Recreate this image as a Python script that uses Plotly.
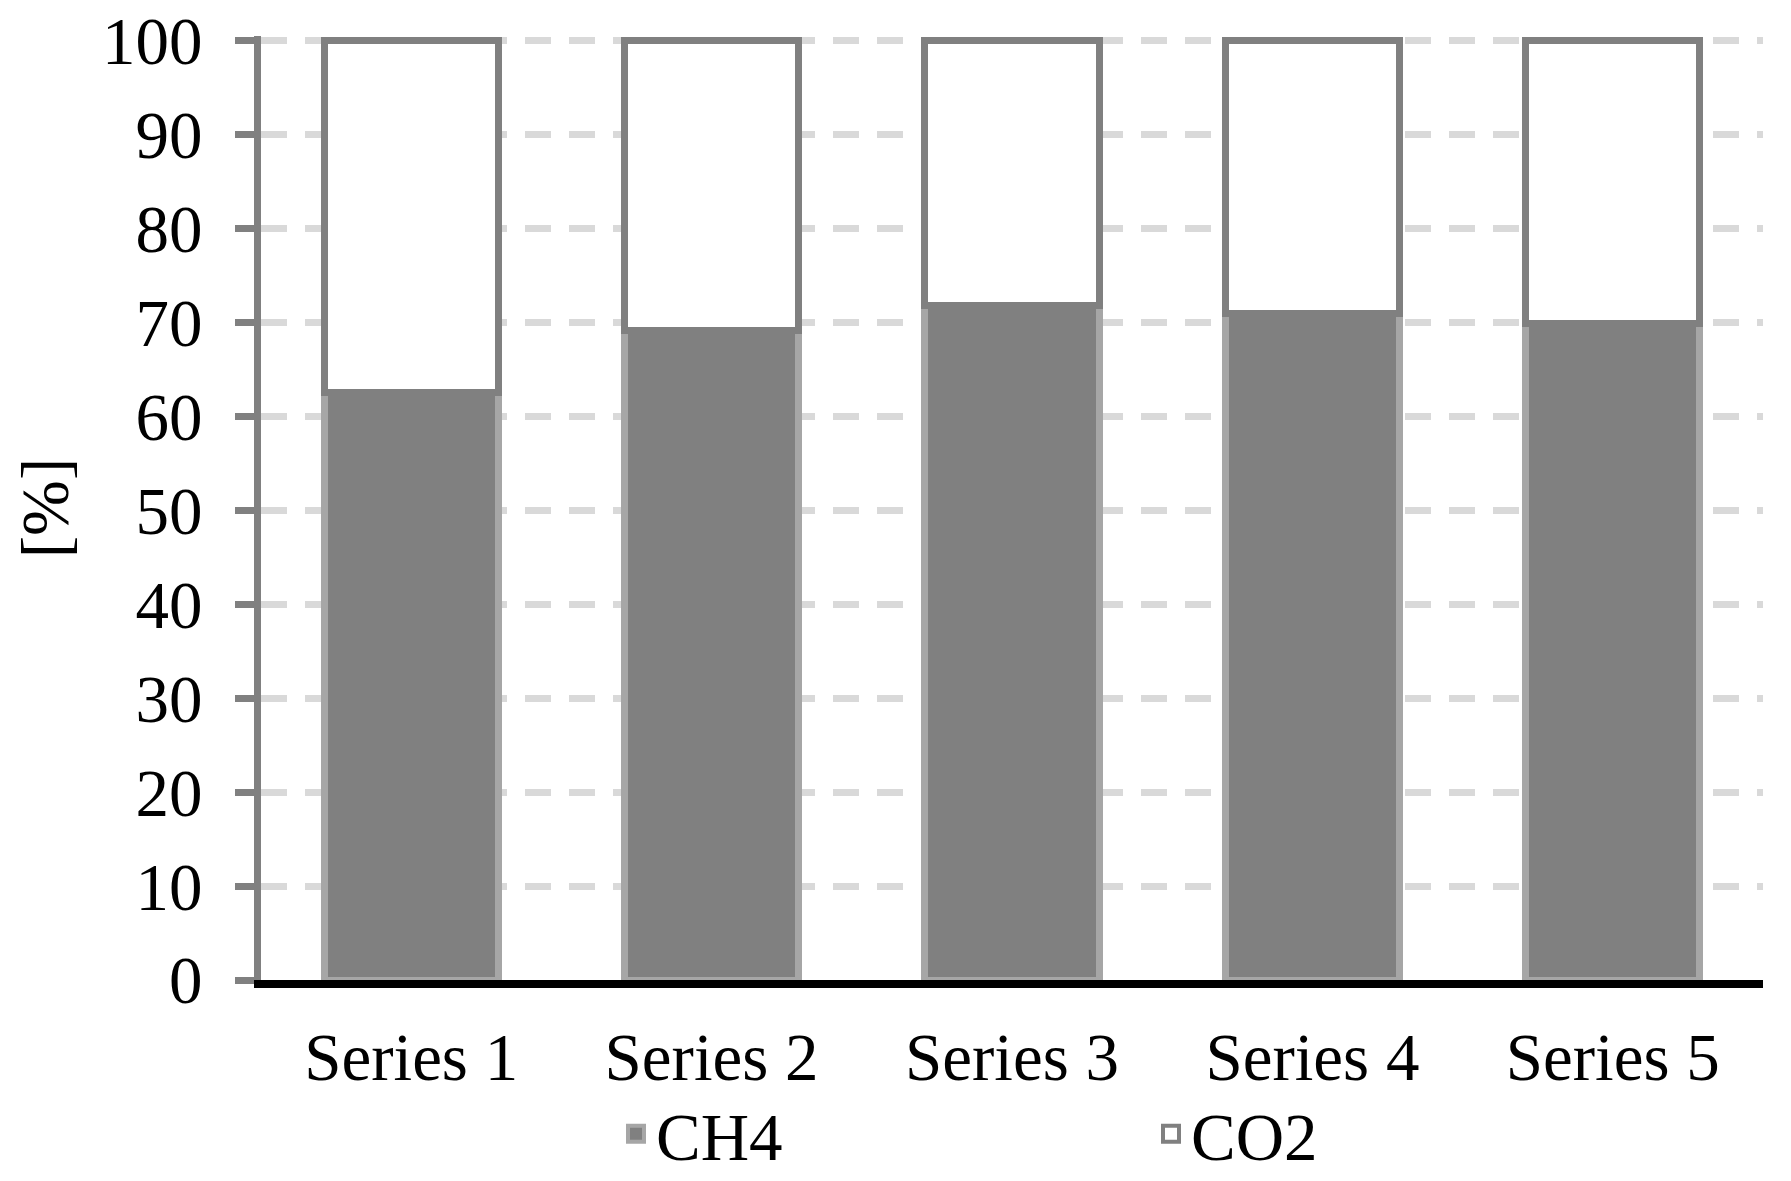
import plotly.graph_objects as go

categories = ["Series 1", "Series 2", "Series 3", "Series 4", "Series 5"]
ch4 = [62.5, 69.2, 71.8, 71.0, 69.9]
co2 = [100 - v for v in ch4]
y_ticks = list(range(0, 101, 10))

FONT = "Liberation Serif, Times New Roman, serif"
CH4_FILL, CH4_LINE = "#808080", "#a6a6a6"
CO2_FILL, CO2_LINE = "#ffffff", "#808080"

fig = go.Figure()
fig.add_trace(go.Bar(
    x=categories, y=ch4, name="CH4", showlegend=False,
    marker=dict(color=CH4_FILL, line=dict(color=CH4_LINE, width=7)),
))
fig.add_trace(go.Bar(
    x=categories, y=co2, name="CO2", showlegend=False,
    marker=dict(color=CO2_FILL, line=dict(color=CO2_LINE, width=7)),
))
# legend proxies (square swatches)
fig.add_trace(go.Scatter(
    x=[None], y=[None], mode="markers", name="CH4",
    marker=dict(symbol="square", size=16, color=CH4_FILL, line=dict(color=CH4_LINE, width=4)),
))
fig.add_trace(go.Scatter(
    x=[None], y=[None], mode="markers", name="CO2",
    marker=dict(symbol="square", size=16, color=CO2_FILL, line=dict(color=CO2_LINE, width=4)),
))

fig.update_layout(
    barmode="stack",
    bargap=0.42,
    width=1783, height=1173,
    margin=dict(l=253, r=28, t=28, b=201, autoexpand=False),
    plot_bgcolor="white", paper_bgcolor="white",
    font=dict(family=FONT, size=67, color="black"),
    showlegend=True,
    legend=dict(
        orientation="h", xref="container", yref="container",
        x=0.341, xanchor="left", y=0.04, yanchor="middle",
        entrywidth=490, entrywidthmode="pixels",
        bgcolor="rgba(0,0,0,0)",
        font=dict(family=FONT, size=67, color="black"),
        traceorder="normal", itemsizing="trace",
    ),
    xaxis=dict(
        showline=True, linecolor="black", linewidth=8,
        ticks="", showgrid=False, automargin=False,
        tickfont=dict(family=FONT, size=67, color="black"),
        ticklabelstandoff=12,
    ),
    yaxis=dict(
        range=[0, 100.5], tickvals=y_ticks, automargin=False,
        showline=True, linecolor="#808080", linewidth=7,
        ticks="outside", ticklen=19, tickwidth=7, tickcolor="#808080",
        showgrid=True, gridcolor="#d9d9d9", gridwidth=7, griddash="26px,18px",
        zeroline=False,
        tickfont=dict(family=FONT, size=67, color="black"),
        ticklabelstandoff=19, ticklabeloverflow="allow",
        title=dict(text="[%]", font=dict(family=FONT, size=67, color="black"), standoff=14),
    ),
)

fig.write_html("out.html")
